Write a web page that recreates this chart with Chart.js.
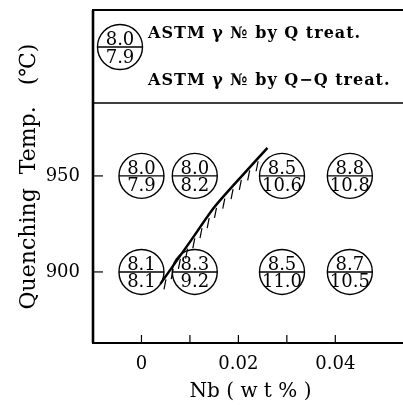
<!DOCTYPE html>
<html>
<head>
<meta charset="utf-8">
<script src="https://cdn.jsdelivr.net/npm/chart.js@4/dist/chart.umd.min.js"></script>
<style>
  html, body { margin: 0; padding: 0; background: #fff; overflow: hidden; }
  #wrap { width: 410px; height: 405px; }
</style>
</head>
<body>
<div id="wrap"><canvas id="c" width="410" height="405"></canvas></div>
<script>
// ─── DATA
const nbPositions = [0, 0.011, 0.029, 0.043];
const gsQ950 = [8.0, 8.0, 8.5, 8.8];
const gsQQ950 = [7.9, 8.2, 10.6, 10.8];
const gsQ900 = [8.1, 8.3, 8.5, 8.7];
const gsQQ900 = [8.1, 9.2, 11.0, 10.5];
const tempRows = [950, 900];

const boundaryNb = [0.0039, 0.0103, 0.0151, 0.0213, 0.026];
const boundaryTemp = [893.8, 916.7, 933.9, 951.6, 964.6];

const xTicks = [0, 0.01, 0.02, 0.03, 0.04];
const xLabelled = [0, 0.02, 0.04];
const yTicks = [900, 950];

const legendDivider = 988;
const legendSample = [8.0, 7.9];
const legendLines = ['ASTM γ № by Q treat.', 'ASTM γ № by Q−Q treat.'];

const SERIF = '"DejaVu Serif", serif';
const R = 22.5;

// build point table from the rows
const cells = [];
[[gsQ950, gsQQ950], [gsQ900, gsQQ900]].forEach(([q, qq], r) => {
  nbPositions.forEach((nb, i) => cells.push({ x: nb, y: tempRows[r], q: q[i], qq: qq[i] }));
});

function drawFraction(ctx, x, y, r, top, bottom) {
  ctx.save();
  ctx.strokeStyle = '#000';
  ctx.lineWidth = 1.4;
  ctx.beginPath();
  ctx.moveTo(x - r, y);
  ctx.lineTo(x + r, y);
  ctx.stroke();
  ctx.fillStyle = '#000';
  ctx.font = '18px ' + SERIF;
  ctx.textAlign = 'center';
  ctx.textBaseline = 'alphabetic';
  ctx.fillText(top.toFixed(1), x, y - 2);
  ctx.fillText(bottom.toFixed(1), x, y + 15.5);
  ctx.restore();
}

// ─── PLUGINS
const framePlugin = {
  id: 'frame',
  beforeDatasetsDraw(chart) {
    const { ctx, chartArea: a, scales: { x, y } } = chart;
    ctx.save();
    ctx.strokeStyle = '#000';
    ctx.lineWidth = 2;
    ctx.strokeRect(a.left, a.top, a.right - a.left, a.bottom - a.top);
    ctx.lineWidth = 2.6;
    ctx.beginPath();
    ctx.moveTo(a.left, a.top);
    ctx.lineTo(a.left, a.bottom);
    ctx.stroke();
    // legend divider
    ctx.lineWidth = 1.5;
    const dy = y.getPixelForValue(legendDivider);
    ctx.beginPath();
    ctx.moveTo(a.left, dy);
    ctx.lineTo(a.right, dy);
    ctx.stroke();
    // inward ticks
    ctx.lineWidth = 1.2;
    yTicks.forEach(v => {
      const py = y.getPixelForValue(v);
      ctx.beginPath();
      ctx.moveTo(a.left, py);
      ctx.lineTo(a.left + 10, py);
      ctx.stroke();
    });
    xTicks.forEach(v => {
      const px = x.getPixelForValue(v);
      ctx.beginPath();
      ctx.moveTo(px, a.bottom);
      ctx.lineTo(px, a.bottom - 8);
      ctx.stroke();
    });
    ctx.restore();
  },
  afterDatasetsDraw(chart) {
    const { ctx, chartArea: a } = chart;

    // hatch marks under the boundary
    const pts = chart.getDatasetMeta(1).data.map(p => ({ x: p.x, y: p.y }));
    const seg = [];
    let total = 0;
    for (let i = 1; i < pts.length; i++) {
      const len = Math.hypot(pts[i].x - pts[i - 1].x, pts[i].y - pts[i - 1].y);
      seg.push(len);
      total += len;
    }
    ctx.save();
    ctx.strokeStyle = '#000';
    ctx.lineWidth = 1.2;
    for (let s = 8; s < total - 6; s += 12.5) {
      let acc = 0, i = 0;
      while (i < seg.length - 1 && acc + seg[i] < s) { acc += seg[i]; i++; }
      const t = (s - acc) / seg[i];
      const px = pts[i].x + (pts[i + 1].x - pts[i].x) * t;
      const py = pts[i].y + (pts[i + 1].y - pts[i].y) * t;
      ctx.beginPath();
      ctx.moveTo(px + 1, py + 2);
      ctx.lineTo(px - 1, py + 12);
      ctx.stroke();
    }
    ctx.restore();

    // fractions in circles
    chart.getDatasetMeta(0).data.forEach((p, i) => {
      drawFraction(ctx, p.x, p.y, R, cells[i].q, cells[i].qq);
    });

    // legend
    const cx = a.left + 27, cy = a.top + 37;
    ctx.save();
    ctx.strokeStyle = '#000';
    ctx.lineWidth = 1.4;
    ctx.beginPath();
    ctx.arc(cx, cy, R, 0, Math.PI * 2);
    ctx.stroke();
    ctx.restore();
    drawFraction(ctx, cx, cy, R, legendSample[0], legendSample[1]);

    ctx.save();
    ctx.fillStyle = '#000';
    ctx.font = 'bold 16px ' + SERIF;
    ctx.letterSpacing = '1px';
    ctx.textAlign = 'left';
    ctx.textBaseline = 'alphabetic';
    ctx.fillText(legendLines[0], a.left + 55, a.top + 28);
    ctx.fillText(legendLines[1], a.left + 55, a.top + 75);
    ctx.restore();
  }
};

// ─── CHART
new Chart(document.getElementById('c'), {
  type: 'scatter',
  data: {
    datasets: [
      {
        data: cells.map(c => ({ x: c.x, y: c.y })),
        pointRadius: R,
        pointHoverRadius: R,
        pointBackgroundColor: '#fff',
        pointBorderColor: '#000',
        pointBorderWidth: 1.4,
        order: 1
      },
      {
        data: boundaryNb.map((v, i) => ({ x: v, y: boundaryTemp[i] })),
        showLine: true,
        borderColor: '#000',
        borderWidth: 2.5,
        pointRadius: 0,
        tension: 0.25,
        order: 0
      }
    ]
  },
  options: {
    responsive: false,
    animation: false,
    devicePixelRatio: 1,
    layout: { autoPadding: false, padding: { top: 10, right: 2, left: 0, bottom: 0 } },
    plugins: { legend: { display: false }, tooltip: { enabled: false } },
    scales: {
      x: {
        type: 'linear',
        min: -0.01,
        max: 0.055,
        grid: { display: false },
        border: { display: false },
        afterBuildTicks: s => { s.ticks = xTicks.map(v => ({ value: v })); },
        afterFit: s => { s.height = 62; s.paddingLeft = 0; s.paddingRight = 0; },
        ticks: {
          autoSkip: false,
          maxRotation: 0,
          padding: 3,
          color: '#000',
          font: { family: SERIF, size: 18 },
          callback: v => xLabelled.includes(v) ? String(v) : ''
        },
        title: {
          display: true,
          text: 'Nb ( w t % )',
          color: '#000',
          font: { family: SERIF, size: 20 },
          padding: { top: 0, bottom: 1 }
        }
      },
      y: {
        min: 863,
        max: 1036.4,
        grid: { display: false },
        border: { display: false },
        afterBuildTicks: s => { s.ticks = yTicks.map(v => ({ value: v })); },
        afterFit: s => { s.width = 93; s.paddingTop = 0; s.paddingBottom = 0; },
        ticks: {
          padding: 5,
          color: '#000',
          font: { family: SERIF, size: 18 }
        },
        title: {
          display: true,
          text: 'Quenching  Temp.   (℃)',
          color: '#000',
          font: { family: SERIF, size: 22 },
          padding: { top: 16, bottom: 0 }
        }
      }
    }
  },
  plugins: [framePlugin]
});
</script>
</body>
</html>
